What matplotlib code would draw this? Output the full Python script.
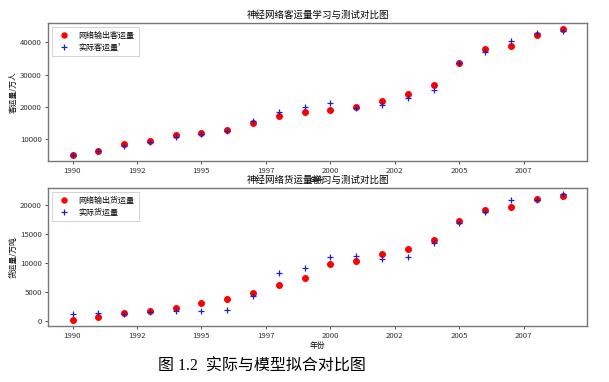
import numpy as np
import matplotlib
matplotlib.use("Agg")
import matplotlib.pyplot as plt
from matplotlib.ticker import FixedLocator, FuncFormatter, MultipleLocator

plt.rcParams['font.family'] = ['Noto Sans CJK SC', 'DejaVu Sans']
plt.rcParams['axes.unicode_minus'] = False

years = np.arange(1990, 2010)

# passenger volume (10k persons)
pass_pred = [5250, 6490, 8450, 9480, 11340, 12080, 12800, 14970, 17050, 18390,
             19100, 19840, 21700, 23980, 26650, 33700, 37850, 38880, 42390, 44070]
pass_true = [5200, 6400, 7830, 9280, 10710, 11650, 12600, 15680, 18290, 19840,
             21080, 19800, 20650, 22730, 25400, 33600, 37000, 40530, 42830, 43440]

# freight volume (10k tons)
freight_pred = [240, 760, 1320, 1720, 2300, 3160, 3780, 4760, 6140, 7460,
                9750, 10430, 11590, 12450, 14040, 17310, 19200, 19720, 21090, 21490]
freight_true = [1270, 1440, 1300, 1500, 1790, 1790, 1890, 4300, 8250, 9060,
                11120, 11240, 10660, 11120, 13470, 16910, 18740, 20800, 20900, 21830]

xtick_pos = [1990, 1992.5, 1995, 1997.5, 2000, 2002.5, 2005, 2007.5]

fig = plt.figure(figsize=(6.09, 3.82), dpi=100)
W, H = 609, 382
ax1 = fig.add_axes([48 / W, 1 - 161 / H, 539 / W, 138 / H])
ax2 = fig.add_axes([48 / W, 1 - 326 / H, 539 / W, 138 / H])


def draw(ax, pred, true, lab_pred, lab_true, ylabel, title, ystep):
    ax.plot(years, pred, 'o', color='red', markersize=4.0, label=lab_pred)
    ax.plot(years, true, '+', color='#2020c0', markersize=4.5, markeredgewidth=0.9, label=lab_true)
    ax.xaxis.set_major_locator(FixedLocator(xtick_pos))
    ax.xaxis.set_major_formatter(FuncFormatter(lambda v, p: str(int(v))))
    ax.yaxis.set_major_locator(MultipleLocator(ystep))
    ax.tick_params(labelsize=5.6, length=2.5, width=0.6, pad=2, colors='#333333')
    ax.set_ylabel(ylabel, fontsize=5.6, labelpad=2)
    ax.set_title(title, fontsize=6.8, pad=4)
    ax.set_xlabel('年份', fontsize=5.6, labelpad=1)
    for s in ax.spines.values():
        s.set_color('#777777')
        s.set_linewidth(1.0)
    leg = ax.legend(loc='upper left', fontsize=5.8, handletextpad=0.8, markerscale=0.9,
                    borderpad=0.5, labelspacing=0.4, fancybox=False, framealpha=1)
    leg.get_frame().set_edgecolor('#cccccc')
    leg.get_frame().set_linewidth(0.6)


draw(ax1, pass_pred, pass_true, '网络输出客运量', "实际客运量'", '客运量/万人',
     '神经网络客运量学习与测试对比图', 10000)
draw(ax2, freight_pred, freight_true, '网络输出货运量', '实际货运量', '货运量/万吨',
     '神经网络货运量学习与测试对比图', 5000)

fig.text(0.43, 1 - 367 / H, '图 1.2  实际与模型拟合对比图', ha='center', va='center',
         fontsize=11.5, family=['Liberation Serif', 'Noto Sans CJK SC'])

fig.savefig('out.png', dpi=100)
